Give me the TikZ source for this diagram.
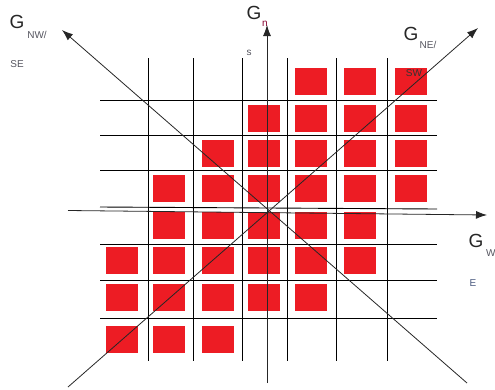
\documentclass[tikz,border=0pt]{standalone}
\usepackage{fontspec}
\setmainfont{Liberation Sans}
\usetikzlibrary{arrows.meta}
\definecolor{sqred}{HTML}{ED1C24}
\definecolor{subgray}{HTML}{55555F}
\definecolor{subblue}{HTML}{4A5A80}
\begin{document}
\begin{tikzpicture}[x=1pt,y=-1pt,
  sq/.style={fill=sqred,draw=none,minimum width=32pt,minimum height=27pt,inner sep=0pt},
  gridln/.style={black,line width=0.9pt},
  axis/.style={black!85,line width=0.8pt,-{Latex[length=11pt,width=8pt]}},
  biglab/.style={font=\fontsize{19}{19}\selectfont,inner sep=0pt,text=black!85},
  sublab/.style={font=\fontsize{10}{10}\selectfont,inner sep=0pt,text=subgray}]
\useasboundingbox (0,0) rectangle (495,389);
% squares
\foreach \r/\y/\cols in {0/81.5/{4,5,6},1/118.5/{3,4,5,6},2/153.5/{2,3,4,5,6},3/188.5/{1,2,3,4,5,6},4/225.5/{1,2,3,4,5},5/260/{0,1,2,3,4,5},6/297/{0,1,2,3,4},7/339.5/{0,1,2}}{
  \foreach \c in \cols {
    \pgfmathsetmacro{\xx}{{121.5,169,217.5,263.5,311,359.5,411}[\c]}
    \node[sq] (sq-\r-\c) at (\xx,\y) {};
  }
}
% grid lines
\foreach \x [count=\i] in {148,193,242,287,336,387}{
  \coordinate (vt\i) at (\x,58);
  \coordinate (vb\i) at (\x,361);
  \draw[gridln] (vt\i) -- (vb\i);
}
\foreach \y [count=\i] in {100,135,170,244,280,318}{
  \coordinate (hl\i) at (100,\y);
  \coordinate (hr\i) at (437,\y);
  \draw[gridln] (hl\i) -- (hr\i);
}
\coordinate (hlm) at (100,207);
\coordinate (hrm) at (437,209);
\draw[gridln] (hlm) -- (hrm);
% labels under the axes
\node[biglab] (gnw) at (17,22) {G};
\node[sublab] (gnwsub) at (37,35) {NW/};
\node[sublab] (gnwse) at (17,64) {SE};
\node[biglab] (gn) at (254,13) {G};
\node[sublab,text=purple!70!black] (gnsub) at (265,24) {n};
\node[sublab] (gns) at (249,53) {s};
\node[biglab] (gne) at (411,34) {G};
\node[sublab] (gnesub) at (428,45) {NE/};
\node[sublab,text=black!80] (gnesw) at (414,73) {SW};
\node[biglab] (gw) at (476,241) {G};
\node[sublab,anchor=west] (gwsub) at (486,253) {W};
\node[sublab,text=subblue] (gwe) at (473,283) {E};
% axes
\coordinate (nwS) at (467,383); \coordinate (nwE) at (62,30);
\coordinate (neS) at (68,387);  \coordinate (neE) at (478,28);
\coordinate (nS) at (267,383);  \coordinate (nE) at (267,25);
\coordinate (wS) at (68,210.5); \coordinate (wE) at (487,215);
\draw[axis] (nwS) -- (nwE);
\draw[axis] (neS) -- (neE);
\draw[axis] (nS) -- (nE);
\draw[axis] (wS) -- (wE);
\end{tikzpicture}
\end{document}
